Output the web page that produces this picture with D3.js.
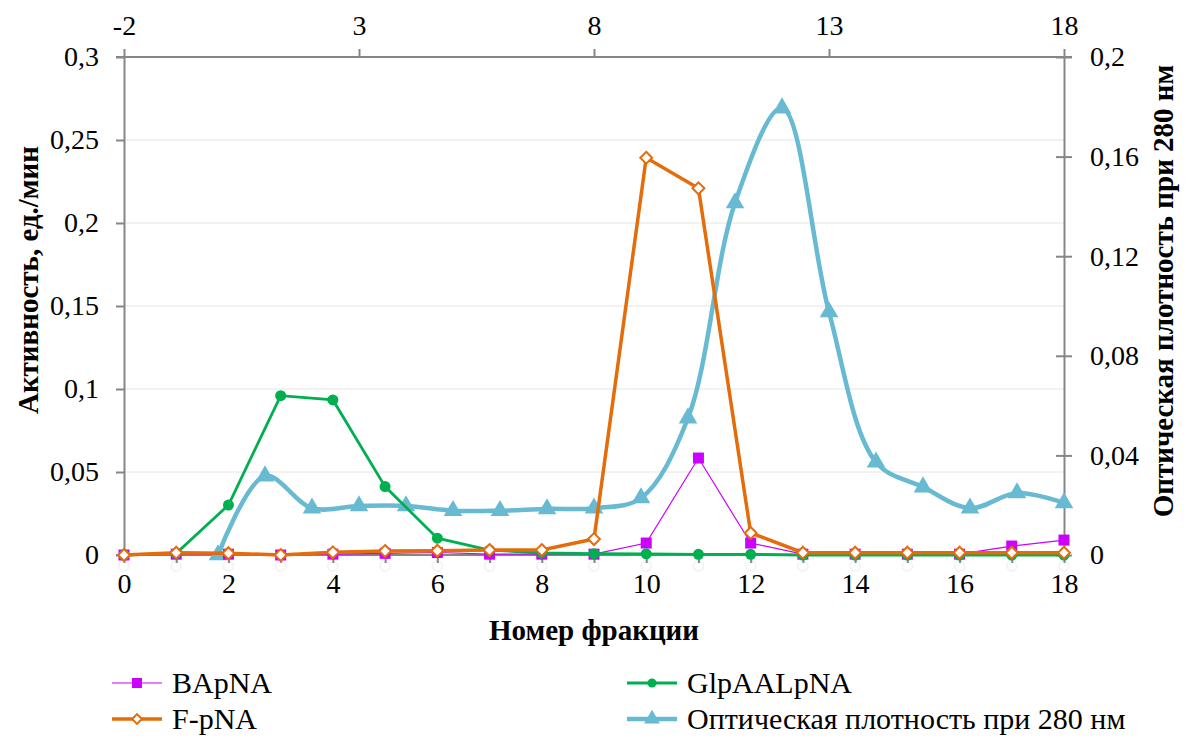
<!DOCTYPE html>
<html><head><meta charset="utf-8">
<script src="https://cdn.jsdelivr.net/npm/d3@7"></script>
<style>body{margin:0;background:#fff}svg{display:block}</style>
</head><body>
<svg id="c" width="1194" height="737"></svg>
<script>
const fractions = [0,1,2,3,4,5,6,7,8,9,10,11,12,13,14,15,16,17,18];
const bapna = [0,0.0005,0.0005,0,0.0005,0.001,0.0015,0.0005,0.0005,0.0005,0.0072,0.0584,0.0072,0.0005,0.0005,0.0005,0.0005,0.0054,0.009];
const glpaalpna = [0,0.001,0.0301,0.096,0.0934,0.0412,0.0101,0.003,0.0012,0.0008,0.0007,0.0004,0.0004,0,0,0,0,0,0];
const fpna = [0,0.0014,0.0011,0,0.0016,0.0024,0.0026,0.003,0.003,0.0096,0.2393,0.2209,0.0133,0.0014,0.0014,0.0014,0.0014,0.0014,0.0014];
const od280 = [0,0.0317,0.0188,0.0197,0.0197,0.0178,0.0178,0.0185,0.0188,0.0229,0.055,0.1414,0.1795,0.0976,0.0373,0.0273,0.0188,0.0249,0.0209];
const leftTicks = [0,0.05,0.1,0.15,0.2,0.25,0.3];
const rightTicks = [0,0.04,0.08,0.12,0.16,0.2];
const bottomTicks = [0,2,4,6,8,10,12,14,16,18];
const topTicks = [-2,3,8,13,18];
const seriesNames = ["BApNA","GlpAALpNA","F-pNA","Оптическая плотность при 280 нм"];

const FONT = '"Liberation Serif"';
const L=124,R=1064,T=57,B=555;
const svg=d3.select("#c");
const x=d3.scaleLinear().domain([0,18]).range([L,R]);
const x2=d3.scaleLinear().domain([-2,18]).range([L,R]);
const y=d3.scaleLinear().domain([0,0.3]).range([B,T]);
const y2=d3.scaleLinear().domain([0,0.2]).range([B,T]);
const fmt=d=>String(d).replace(".",",");
const axisCol="#868686", fs=28, fsT=29, fsL=30;

svg.append("g").selectAll("line").data(leftTicks.slice(1)).join("line")
 .attr("x1",L).attr("x2",R).attr("y1",d=>y(d)).attr("y2",d=>y(d)).attr("stroke","#e4e4e4").attr("stroke-width",1);

svg.append("g").selectAll("circle").data(fractions).join("circle")
 .attr("cx",d=>x(d)).attr("cy",B+11).attr("r",5).attr("fill","none").attr("stroke","#f4f4f4").attr("stroke-width",2);

function styleAxis(g){
 g.attr("font-family",null).attr("font-size",null);
 g.selectAll("path,line").attr("stroke",axisCol).attr("stroke-width",2);
 g.selectAll("text").style("font-family",FONT).style("font-size",fs+"px").attr("fill","#000");
}

svg.append("g").attr("transform",`translate(${L},0)`)
 .call(d3.axisLeft(y).tickValues(leftTicks).tickFormat(fmt).tickSize(8).tickSizeOuter(0).tickPadding(17))
 .call(styleAxis);
const ra=svg.append("g").attr("transform",`translate(${R},0)`)
 .call(d3.axisRight(y2).tickValues(rightTicks).tickFormat(fmt).tickSize(8).tickSizeOuter(0).tickPadding(18))
 .call(styleAxis);
ra.selectAll(".tick line").attr("x1",-8);
const ba=svg.append("g").attr("transform",`translate(0,${B})`)
 .call(d3.axisBottom(x).tickValues(fractions).tickFormat(d=>bottomTicks.includes(d)?d:"").tickSize(8).tickSizeOuter(0).tickPadding(10))
 .call(styleAxis);
ba.select(".domain").attr("d",`M${L-8},0H${R}`);
const ta=svg.append("g").attr("transform",`translate(0,${T})`)
 .call(d3.axisTop(x2).tickValues(topTicks).tickFormat(d=>d).tickSize(8).tickSizeOuter(0).tickPadding(14))
 .call(styleAxis);
ta.select(".domain").attr("d",`M${L-8},0H${R+8}`);
ta.selectAll("text").text(d=>d<0?"-"+Math.abs(d):d);

function pts(vals,xs,ys){return vals.map((v,i)=>[xs(fractions[i]),ys(v)]);}
const lineLin=d3.line();
const lineSm=d3.line().curve(d3.curveCatmullRom.alpha(0.5));

const sOD=pts(od280,x2,y2), sB=pts(bapna,x,y), sG=pts(glpaalpna,x,y), sF=pts(fpna,x,y);
const cB="#CC00FF", cG="#00B050", cF="#E46C0A", cO="#67BAD2";

svg.append("path").attr("d",lineSm(sOD)).attr("fill","none").attr("stroke",cO).attr("stroke-width",4.5);
const tri=d3.symbol().type(d3.symbolTriangle).size(150);
svg.append("g").selectAll("path").data(sOD).join("path").attr("transform",d=>`translate(${d[0]},${d[1]})`).attr("d",tri).attr("fill",cO);

svg.append("path").attr("d",lineLin(sB)).attr("fill","none").attr("stroke",cB).attr("stroke-width",1.2);
svg.append("g").selectAll("rect").data(sB).join("rect").attr("x",d=>d[0]-5.5).attr("y",d=>d[1]-5.5).attr("width",11).attr("height",11).attr("fill",cB);

svg.append("path").attr("d",lineLin(sG)).attr("fill","none").attr("stroke",cG).attr("stroke-width",2.8);
svg.append("g").selectAll("circle").data(sG).join("circle").attr("cx",d=>d[0]).attr("cy",d=>d[1]).attr("r",5.5).attr("fill",cG);

svg.append("path").attr("d",lineLin(sF)).attr("fill","none").attr("stroke",cF).attr("stroke-width",3.5);
const dia=d3.symbol().type(d3.symbolDiamond2).size(90);
svg.append("g").selectAll("path").data(sF).join("path").attr("transform",d=>`translate(${d[0]},${d[1]})`).attr("d",dia).attr("fill","#fff").attr("stroke",cF).attr("stroke-width",2);

function txt(s){return svg.append("text").style("font-family",FONT).style("font-size",s+"px").attr("fill","#000");}
txt(fsT).attr("transform",`translate(38,280) rotate(-90)`).attr("text-anchor","middle").style("font-weight","bold").text("Активность, ед./мин");
txt(fsT).attr("transform",`translate(1173,291) rotate(-90)`).attr("text-anchor","middle").style("font-weight","bold").text("Оптическая плотность при 280 нм");
txt(fsT).attr("x",594).attr("y",640).attr("text-anchor","middle").style("font-weight","bold").text("Номер фракции");

const leg=[{n:seriesNames[0],c:cB,w:1.2,m:"sq",x:112,y:683},{n:seriesNames[1],c:cG,w:2.8,m:"ci",x:627,y:683},{n:seriesNames[2],c:cF,w:3.5,m:"di",x:112,y:719},{n:seriesNames[3],c:cO,w:4.5,m:"tr",x:627,y:719}];
leg.forEach(l=>{
 const g=svg.append("g");
 g.append("line").attr("x1",l.x).attr("x2",l.x+50).attr("y1",l.y).attr("y2",l.y).attr("stroke",l.c).attr("stroke-width",l.w);
 const cx=l.x+25;
 if(l.m==="sq")g.append("rect").attr("x",cx-5).attr("y",l.y-5).attr("width",10).attr("height",10).attr("fill",l.c);
 if(l.m==="ci")g.append("circle").attr("cx",cx).attr("cy",l.y).attr("r",4.5).attr("fill",l.c);
 if(l.m==="di")g.append("path").attr("transform",`translate(${cx},${l.y})`).attr("d",d3.symbol().type(d3.symbolDiamond2).size(60)).attr("fill","#fff").attr("stroke",l.c).attr("stroke-width",2);
 if(l.m==="tr")g.append("path").attr("transform",`translate(${cx},${l.y})`).attr("d",d3.symbol().type(d3.symbolTriangle).size(110)).attr("fill",l.c);
 g.append("text").style("font-family",FONT).style("font-size",fsL+"px").attr("fill","#000").attr("x",l.x+60).attr("y",l.y+10).text(l.n);
});
</script>
</body></html>
